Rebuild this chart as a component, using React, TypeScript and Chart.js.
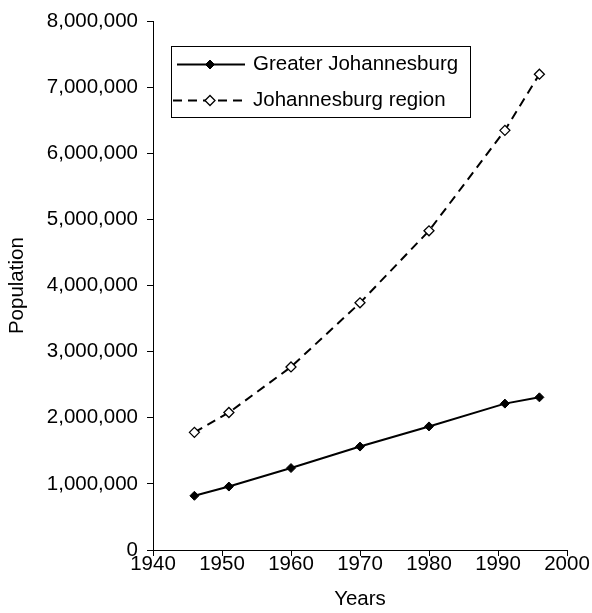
import React, { useEffect, useRef } from 'react';
import { Chart, registerables } from 'chart.js';

Chart.register(...registerables);

const years = [1946, 1951, 1960, 1970, 1980, 1991, 1996];
const greaterJohannesburg = [820000, 960000, 1240000, 1565000, 1870000, 2215000, 2310000];
const johannesburgRegion = [1780000, 2080000, 2770000, 3740000, 4830000, 6350000, 7200000];
const seriesLabels = ['Greater Johannesburg', 'Johannesburg region'];
const xAxisTitle = 'Years';
const yAxisTitle = 'Population';

const FONT = "'Liberation Sans', Arial, Helvetica, sans-serif";
const FS = 20.5;

const boxLegend = {
  id: 'boxLegend',
  afterDraw(chart: any) {
    const ctx = chart.ctx as CanvasRenderingContext2D;
    ctx.save();
    ctx.strokeStyle = '#000';
    ctx.lineWidth = 1;
    ctx.setLineDash([]);
    ctx.strokeRect(171.5, 46.5, 299, 71);
    const rows = [64.5, 100.5];
    const lineStart = [177, 173];
    chart.data.datasets.forEach((ds: any, i: number) => {
      const y = rows[i];
      ctx.lineWidth = ds.borderWidth;
      ctx.strokeStyle = ds.borderColor;
      ctx.setLineDash(ds.borderDash || []);
      ctx.beginPath();
      ctx.moveTo(lineStart[i], y);
      ctx.lineTo(245, y);
      ctx.stroke();
      ctx.setLineDash([]);
      const cx = 210;
      const r = ds.pointRadius;
      ctx.beginPath();
      ctx.moveTo(cx - r, y);
      ctx.lineTo(cx, y - r);
      ctx.lineTo(cx + r, y);
      ctx.lineTo(cx, y + r);
      ctx.closePath();
      ctx.fillStyle = ds.pointBackgroundColor;
      ctx.fill();
      ctx.lineWidth = ds.pointBorderWidth;
      ctx.strokeStyle = ds.pointBorderColor;
      ctx.stroke();
      ctx.fillStyle = '#000';
      ctx.font = `${FS}px ${FONT}`;
      ctx.textBaseline = 'middle';
      ctx.textAlign = 'left';
      ctx.fillText(ds.label, 253, y - 0.5);
    });
    ctx.restore();
  },
};

export default function App() {
  const canvasRef = useRef<HTMLCanvasElement | null>(null);

  useEffect(() => {
    if (!canvasRef.current) return;
    const chart = new Chart(canvasRef.current, {
      type: 'line',
      data: {
        datasets: [
          {
            label: seriesLabels[0],
            data: years.map((x, i) => ({ x, y: greaterJohannesburg[i] })),
            borderColor: '#000',
            borderWidth: 2,
            pointStyle: 'rectRot',
            pointRadius: 4.5,
            pointBackgroundColor: '#000',
            pointBorderColor: '#000',
            pointBorderWidth: 1,
            tension: 0,
          },
          {
            label: seriesLabels[1],
            data: years.map((x, i) => ({ x, y: johannesburgRegion[i] })),
            borderColor: '#000',
            borderWidth: 2,
            borderDash: [9, 6],
            pointStyle: 'rectRot',
            pointRadius: 5,
            pointBackgroundColor: '#fff',
            pointBorderColor: '#000',
            pointBorderWidth: 1.3,
            tension: 0,
          },
        ],
      },
      options: {
        responsive: false,
        animation: false,
        layout: { padding: { top: 21, right: 25, bottom: 0, left: 0 } },
        plugins: {
          legend: { display: false },
          tooltip: { enabled: false },
        },
        scales: {
          x: {
            type: 'linear',
            min: 1940,
            max: 2000,
            ticks: {
              stepSize: 10,
              callback: (v: any) => String(v),
              font: { family: FONT, size: FS, lineHeight: 1 },
              color: '#000',
              padding: -2,
              maxRotation: 0,
            },
            grid: { drawOnChartArea: false, drawTicks: true, tickLength: 6, tickColor: '#000' },
            border: { color: '#000', width: 1 },
            title: {
              display: true,
              text: xAxisTitle,
              color: '#000',
              font: { family: FONT, size: FS, lineHeight: 1 },
              padding: { top: 0, bottom: 3 },
            },
            afterFit: (s: any) => {
              s.height = 63;
            },
          },
          y: {
            min: 0,
            max: 8000000,
            ticks: {
              stepSize: 1000000,
              callback: (v: any) => Number(v).toLocaleString('en-US'),
              font: { family: FONT, size: FS },
              color: '#000',
              padding: 9,
            },
            grid: { drawOnChartArea: false, drawTicks: true, tickLength: 6, tickColor: '#000' },
            border: { color: '#000', width: 1 },
            title: {
              display: true,
              text: yAxisTitle,
              color: '#000',
              font: { family: FONT, size: FS, lineHeight: 1 },
              padding: { top: 7, bottom: 0 },
            },
            afterFit: (s: any) => {
              s.width = 153;
            },
          },
        },
      },
      plugins: [boxLegend],
    } as any);
    return () => chart.destroy();
  }, []);

  return (
    <div style={{ position: 'absolute', left: 0, top: 0, width: 592, height: 613, background: '#fff' }}>
      <canvas ref={canvasRef} width={592} height={613} style={{ display: 'block' }} />
    </div>
  );
}
